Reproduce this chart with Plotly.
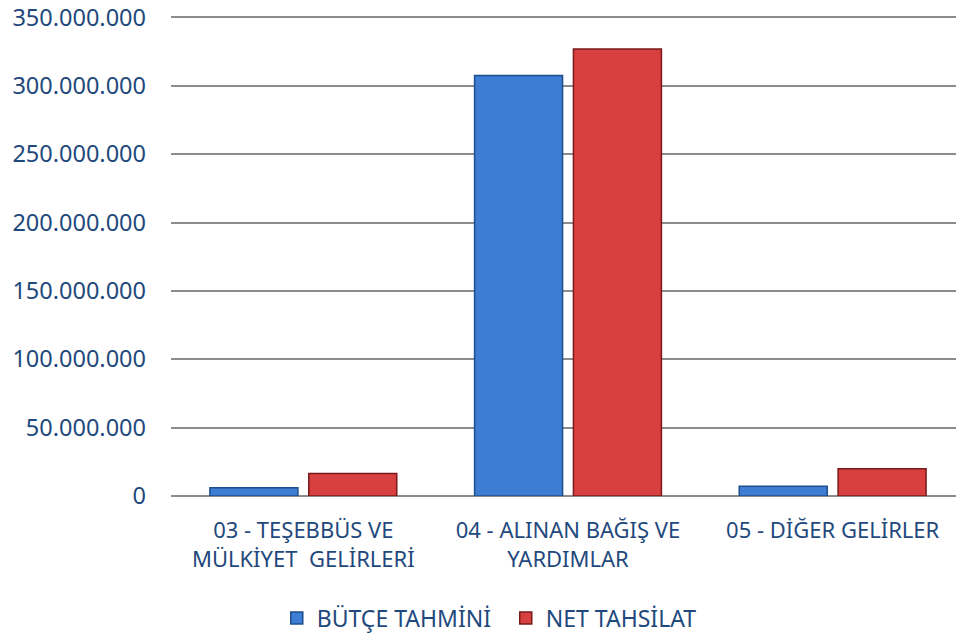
import plotly.graph_objects as go

categories = ["03 - TEŞEBBÜS VE<br>MÜLKİYET  GELİRLERİ",
              "04 - ALINAN BAĞIŞ VE<br>YARDIMLAR",
              "05 - DİĞER GELİRLER"]
butce_tahmini = [6100000, 307400000, 7100000]
net_tahsilat = [16400000, 326900000, 20000000]
tick_vals = [0, 50000000, 100000000, 150000000, 200000000, 250000000, 300000000, 350000000]

FONT = "Noto Sans"
TXT = "#1F497D"

fig = go.Figure()
fig.add_trace(go.Bar(x=categories, y=butce_tahmini, name="BÜTÇE TAHMİNİ",
                     marker=dict(color="#3D7DD3", line=dict(color="#1F4E8C", width=1.5))))
fig.add_trace(go.Bar(x=categories, y=net_tahsilat, name="NET TAHSİLAT",
                     marker=dict(color="#D84040", line=dict(color="#7A1A1A", width=1.5))))

fig.update_layout(
    width=956, height=636,
    margin=dict(l=171, r=0, t=16, b=140),
    paper_bgcolor="white", plot_bgcolor="white",
    separators=",.",
    barmode="group", bargap=0.253, bargroupgap=0.11,
    font=dict(family=FONT, size=22, color=TXT),
    legend=dict(orientation="h", xref="container", yref="container",
                x=0.2895, xanchor="left", y=0.0283, yanchor="middle",
                entrywidth=184, entrywidthmode="pixels",
                font=dict(family=FONT, size=23, color=TXT), itemwidth=30),
    showlegend=True,
)
fig.update_xaxes(range=[-0.5, 2.466], showgrid=False, showline=False,
                 automargin=False,
                 ticks="outside", ticklen=15, tickcolor="rgba(0,0,0,0)",
                 tickangle=0,
                 tickfont=dict(family=FONT, size=22, color=TXT))
fig.update_yaxes(range=[0, 351000000], tickvals=tick_vals, tickformat=",d",
                 automargin=False,
                 showgrid=True, gridcolor="#8C8C8C", gridwidth=1.5,
                 zeroline=True, zerolinecolor="#8C8C8C", zerolinewidth=1.5,
                 ticks="", ticklabelstandoff=24, ticklabeloverflow="allow",
                 tickfont=dict(family=FONT, size=23.5, color=TXT))

fig.write_html("out.html",
               config={"displayModeBar": False},
               post_script="document.body.style.margin='0px';document.body.style.overflow='hidden';")
